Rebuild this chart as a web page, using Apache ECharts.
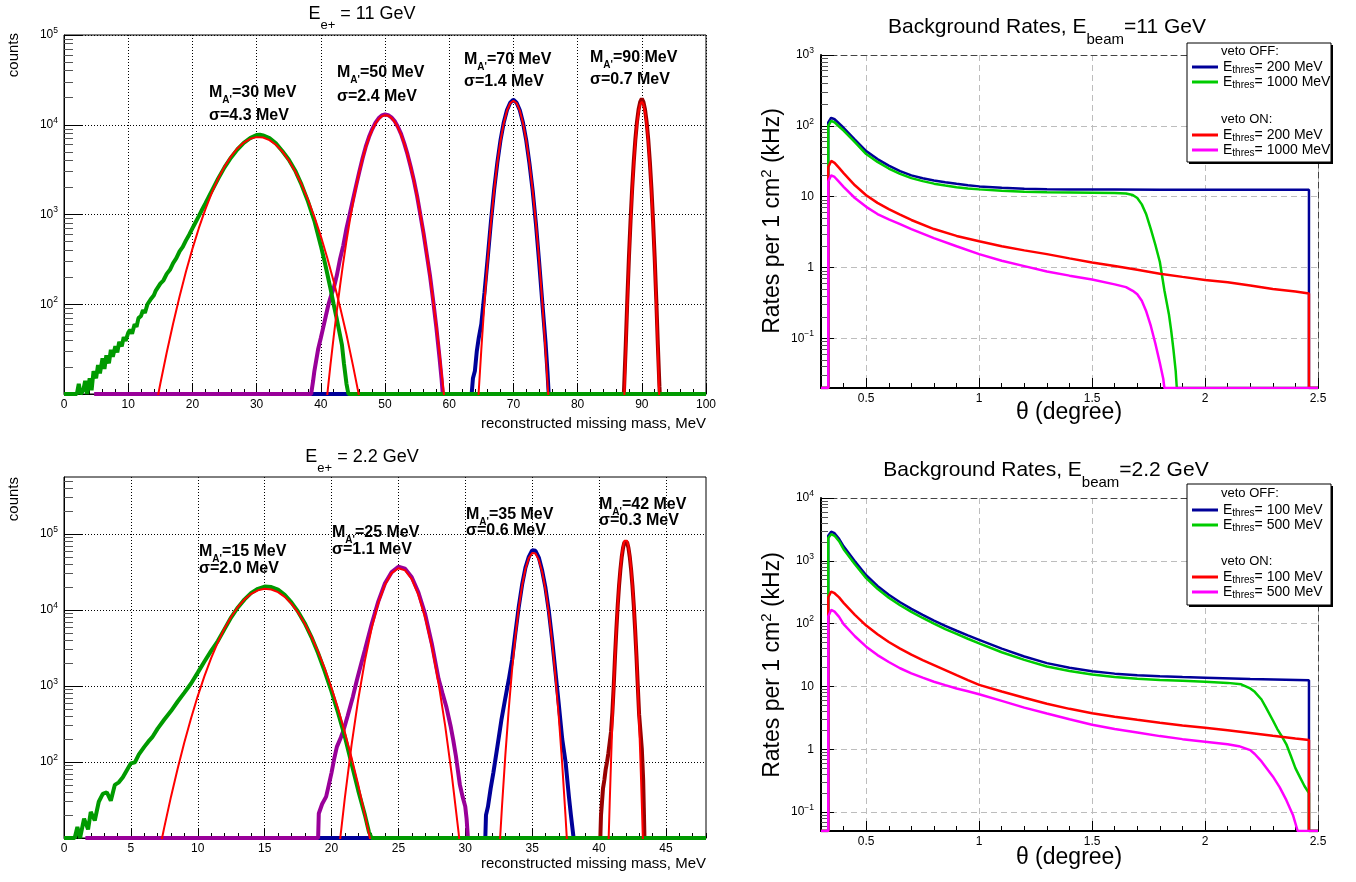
<!DOCTYPE html>
<html>
<head>
<meta charset="utf-8">
<script src="https://cdn.jsdelivr.net/npm/echarts@6/dist/echarts.min.js"></script>
<style>
  html, body { margin: 0; padding: 0; background: #fff; }
  #chart { width: 1356px; height: 882px; }
</style>
</head>
<body>
<div id="chart"></div>
<script>
const F = '"Liberation Sans", Arial, Helvetica, sans-serif';

// ---- tick values ----
const xTicksTL = [0, 10, 20, 30, 40, 50, 60, 70, 80, 90, 100];
const xTicksBL = [0, 5, 10, 15, 20, 25, 30, 35, 40, 45];
const xTicksR = [0.5, 1, 1.5, 2, 2.5];
const yTicksL = [10, 100, 1000, 10000, 100000];
const yLabelsL = [100, 1000, 10000, 100000];
const yTicksTR = [0.1, 1, 10, 100, 1000];
const yTicksBR = [0.1, 1, 10, 100, 1000, 10000];

// ---- E = 11 GeV, missing mass histograms (counts) ----
const h90_11 = [[50,10],[87.2,10],[87.25,12],[87.5,35],[87.75,115],[88,340],[88.25,860],[88.5,1950],[88.75,3900],[89,6900],[89.25,10800],[89.5,14800],[89.75,18000],[90,19500],[90.25,18000],[90.5,14800],[90.75,10800],[91,6900],[91.25,3900],[91.5,1950],[91.75,860],[92,340],[92.25,115],[92.5,35],[92.75,12],[92.8,10],[100,10]];
const h70_11 = [[30,10],[63.5,10],[63.7,15],[64,18],[64.3,30],[64.6,42],[65,60],[65.5,135],[66,330],[66.5,830],[67,1900],[67.5,3800],[68,6800],[68.5,10600],[69,14600],[69.5,17600],[70,19000],[70.5,17600],[71,14500],[71.5,10500],[72,6700],[72.5,3700],[73,1850],[73.5,800],[74,300],[74.5,105],[75,38],[75.3,18],[75.5,10],[100,10]];
const h50_11 = [[4.7,10],[38.5,10],[38.8,14],[39,18],[39.3,24],[39.6,32],[40,42],[40.4,56],[40.8,75],[41.2,100],[41.6,125],[42,150],[42.5,210],[43,320],[43.5,450],[44,700],[44.5,1000],[45,1450],[45.5,2100],[46,3000],[46.5,4200],[47,5700],[47.5,7300],[48,8900],[48.5,10500],[49,11800],[49.5,12700],[50,13000],[50.5,12800],[51,12100],[51.5,11000],[52,9500],[52.5,7900],[53,6200],[53.5,4700],[54,3400],[54.5,2400],[55,1600],[55.5,1000],[56,620],[56.5,360],[57,210],[57.5,110],[58,55],[58.5,25],[58.8,15],[59,10],[100,10]];
const h30_11 = [[0,10],[2,10],[2.3,13],[2.6,10],[3,11],[3.3,14],[3.6,10],[4,15],[4.3,11],[4.6,18],[5,15],[5.3,21],[5.6,17],[6,25],[6.3,19],[6.6,27],[7,22],[7.3,31],[7.6,26],[8,34],[8.3,29],[8.6,38],[9,34],[9.3,43],[9.6,39],[10,48],[10.3,52],[10.6,47],[11,60],[11.3,56],[11.6,70],[12,74],[12.3,86],[12.6,80],[13,100],[13.3,95],[13.6,116],[14,126],[14.3,142],[14.6,136],[15,170],[15.5,185],[16,218],[16.5,242],[17,288],[17.5,326],[18,388],[18.5,436],[19,515],[19.5,596],[20,700],[20.5,820],[21,960],[21.5,1130],[22,1320],[22.5,1550],[23,1820],[24,2500],[25,3350],[26,4300],[27,5300],[28,6300],[29,7100],[30,7700],[30.5,7750],[31,7600],[32,7100],[33,6200],[34,5100],[35,4100],[36,3100],[37,2150],[38,1400],[39,850],[40,450],[40.5,320],[41,220],[41.5,150],[42,100],[42.5,68],[43,45],[43.3,35],[43.6,22],[44,13],[44.3,10],[100,10]];
// fitted curves
const f90_11 = [[87,2],[87.25,8],[87.5,30],[87.75,102],[88,304],[88.25,790],[88.5,1810],[88.75,3660],[89,6490],[89.25,10140],[89.5,13940],[89.75,16890],[90,18000],[90.25,16890],[90.5,13940],[90.75,10140],[91,6490],[91.25,3660],[91.5,1810],[91.75,790],[92,304],[92.25,102],[92.5,30],[92.75,8],[93,2]];
const f70_11 = [[64.3,5],[64.5,8.2],[65,31],[65.5,106],[66,313],[66.5,812],[67,1860],[67.5,3756],[68,6660],[68.5,10420],[69,14340],[69.5,17360],[70,18500],[70.5,17360],[71,14340],[71.5,10420],[72,6660],[72.5,3756],[73,1860],[73.5,812],[74,313],[74.5,106],[75,31],[75.5,8.2],[75.7,5]];
const f50_11 = [[40.8,6],[41,9.7],[41.5,21],[42,43],[42.5,85],[43,160],[43.5,292],[44,507],[44.5,841],[45,1336],[45.5,2040],[46,2970],[46.5,4155],[47,5560],[47.5,7120],[48,8730],[48.5,10250],[49,11520],[49.5,12400],[50,12790],[50.5,12620],[51,11930],[51.5,10800],[52,9360],[52.5,7760],[53,6170],[53.5,4695],[54,3420],[54.5,2385],[55,1600],[55.5,1019],[56,625],[56.5,366],[57,206],[57.5,110],[58,57],[58.5,28],[59,13],[59.3,8.2]];
const f30_11 = [[14,5.6],[15,13],[16,29],[17,61],[18,122],[19,232],[20,414],[21,704],[22,1134],[23,1728],[24,2500],[25,3414],[26,4430],[27,5440],[28,6330],[29,6975],[30,7280],[31,7200],[32,6750],[33,5990],[34,5040],[35,4010],[36,3030],[37,2170],[38,1470],[39,940],[40,575],[41,330],[42,180],[43,93],[44,46],[45,21],[46,9.2]];

// ---- E = 2.2 GeV ----
const h42_22 = [[25,10],[40.1,10],[40.15,20],[40.2,26],[40.3,45],[40.4,58],[40.5,80],[40.6,100],[40.7,130],[40.8,180],[40.9,250],[41,450],[41.1,1000],[41.2,2500],[41.3,5600],[41.4,11500],[41.5,21000],[41.6,34000],[41.7,50000],[41.8,66000],[41.9,78000],[42,82000],[42.1,78000],[42.2,66000],[42.3,50000],[42.4,34000],[42.5,21000],[42.6,11500],[42.7,5600],[42.8,2500],[42.9,1000],[43,420],[43.1,250],[43.2,150],[43.3,60],[43.35,25],[43.4,10],[48,10]];
const h35_22 = [[15,10],[31.5,10],[31.55,20],[31.7,26],[31.9,45],[32.1,72],[32.4,158],[32.7,355],[33,700],[33.25,1200],[33.5,2200],[33.75,5000],[34,11000],[34.25,21500],[34.5,36000],[34.75,50000],[35,61000],[35.25,60000],[35.5,49000],[35.75,33000],[36,19500],[36.25,9600],[36.5,4000],[36.75,1500],[37,560],[37.25,200],[37.5,100],[37.75,35],[37.9,20],[38.1,10],[48,10]];
const h25_22 = [[1.6,10],[19,10],[19.05,21],[19.3,28],[19.6,35],[19.8,50],[20,72],[20.2,110],[20.4,158],[20.7,210],[20.9,263],[21.2,400],[21.6,724],[21.9,1200],[22.2,1900],[22.5,3000],[23,6500],[23.5,13000],[24,22500],[24.5,31500],[25,37000],[25.5,35000],[26,27000],[26.5,17000],[27,8800],[27.5,3600],[28,1250],[28.3,800],[28.6,520],[28.9,300],[29.1,195],[29.3,120],[29.6,50],[29.8,35],[30,26],[30.1,18],[30.2,10],[48,10]];
const h15_22 = [[0,10],[0.8,10],[1,14],[1.2,10],[1.5,18],[1.8,13],[2,22],[2.3,17],[2.6,30],[2.9,38],[3.2,40],[3.5,31],[3.8,50],[4.1,54],[4.4,63],[4.7,78],[5,96],[5.3,99],[5.6,126],[6,158],[6.3,185],[6.6,212],[7,275],[7.5,362],[8,468],[8.5,625],[9,818],[9.5,1080],[10,1500],[10.5,2100],[11,2900],[11.5,3900],[12,5600],[12.5,8000],[13,10800],[13.5,13800],[14,16800],[14.5,19000],[15,20300],[15.5,20000],[16,18500],[16.5,15800],[17,12600],[17.5,9500],[18,6700],[18.5,4400],[19,2700],[19.5,1550],[20,850],[20.5,440],[21,215],[21.5,95],[22,42],[22.5,20],[22.8,12],[23,10],[48,10]];
const f42_22 = [[40.7,7.2],[40.8,28.8],[40.9,103],[41,332],[41.1,955],[41.2,2460],[41.3,5650],[41.4,11640],[41.5,21430],[41.6,35340],[41.7,52160],[41.8,68880],[41.9,81350],[42,86000],[42.1,81350],[42.2,68880],[42.3,52160],[42.4,35340],[42.5,21430],[42.6,11640],[42.7,5650],[42.8,2460],[42.9,955],[43,332],[43.1,103],[43.2,28.8],[43.3,7.2]];
const f35_22 = [[32.5,4.8],[32.75,26.6],[33,125],[33.25,491],[33.5,1630],[33.75,4540],[34,10600],[34.25,20900],[34.5,34600],[34.75,48100],[35,56200],[35.25,55250],[35.5,45640],[35.75,31700],[36,18500],[36.25,9080],[36.5,3750],[36.75,1300],[37,379],[37.25,93],[37.5,19],[37.75,3.3]];
const f25_22 = [[20.5,5.7],[21,34],[21.5,168],[22,670],[22.5,2170],[23,5740],[23.5,12320],[24,21530],[24.5,30600],[25,35350],[25.5,33230],[26,25400],[26.5,15800],[27,7990],[27.5,3290],[28,1100],[28.5,299],[29,66],[29.5,11.9],[30,1.7]];
const f15_22 = [[7,5.2],[7.5,13.9],[8,35],[8.5,82],[9,182],[9.5,377],[10,737],[10.5,1350],[11,2330],[11.5,3760],[12,5720],[12.5,8160],[13,10950],[13.5,13800],[14,16330],[14.5,18160],[15,18980],[15.5,18620],[16,17180],[16.5,14870],[17,12100],[17.5,9250],[18,6640],[18.5,4480],[19,2840],[19.5,1690],[20,945],[20.5,496],[21,245],[21.5,114],[22,50],[22.5,20],[23,7.8]];

// ---- background rates (kHz per cm^2) vs theta (deg) ----
const rOff200_11 = [[0.3,0.02],[0.332,0.02],[0.332,112],[0.345,130],[0.36,124],[0.38,108],[0.4,94],[0.45,64],[0.5,44],[0.55,34],[0.6,27.5],[0.65,23],[0.7,20],[0.75,18.2],[0.8,17],[0.85,16],[0.9,15.2],[0.95,14.5],[1,14],[1.1,13.4],[1.2,13],[1.3,12.8],[1.4,12.7],[1.6,12.6],[1.8,12.5],[2,12.5],[2.2,12.5],[2.46,12.5],[2.46,0.02],[2.5,0.02]];
const rOff1000_11 = [[0.3,0.02],[0.332,0.02],[0.332,100],[0.345,118],[0.36,112],[0.38,98],[0.4,86],[0.45,59],[0.5,40],[0.55,31],[0.6,25],[0.65,21],[0.7,18.3],[0.75,16.6],[0.8,15.3],[0.85,14.4],[0.9,13.6],[0.95,13.1],[1,12.7],[1.1,12.1],[1.2,11.8],[1.3,11.6],[1.4,11.5],[1.5,11.4],[1.6,11.3],[1.65,11.1],[1.68,10.6],[1.7,9.6],[1.72,7.8],[1.74,5.6],[1.76,3.5],[1.78,2.1],[1.8,1.2],[1.82,0.48],[1.84,0.22],[1.85,0.13],[1.86,0.07],[1.87,0.035],[1.875,0.02],[2.5,0.02]];
const rOn200_11 = [[0.3,0.02],[0.332,0.02],[0.332,26],[0.345,32],[0.36,30],[0.38,25.5],[0.4,21.5],[0.45,14.5],[0.5,10.5],[0.55,8.2],[0.6,6.7],[0.65,5.6],[0.7,4.7],[0.8,3.5],[0.9,2.8],[1,2.35],[1.1,2],[1.2,1.75],[1.3,1.55],[1.4,1.35],[1.5,1.18],[1.6,1.05],[1.7,0.93],[1.8,0.82],[1.9,0.74],[2,0.67],[2.1,0.62],[2.2,0.56],[2.3,0.5],[2.4,0.46],[2.46,0.43],[2.46,0.02],[2.5,0.02]];
const rOn1000_11 = [[0.3,0.02],[0.332,0.02],[0.332,16.5],[0.345,20],[0.36,19],[0.38,16.2],[0.4,13.8],[0.45,9.6],[0.5,7.2],[0.55,5.7],[0.6,4.8],[0.65,4.1],[0.7,3.5],[0.8,2.6],[0.9,2],[1,1.55],[1.1,1.25],[1.2,1.05],[1.3,0.88],[1.4,0.77],[1.5,0.68],[1.6,0.58],[1.65,0.53],[1.68,0.47],[1.7,0.42],[1.72,0.34],[1.74,0.24],[1.76,0.15],[1.78,0.085],[1.8,0.045],[1.815,0.027],[1.82,0.02],[2.5,0.02]];
const rOff100_22 = [[0.3,0.05],[0.332,0.05],[0.332,2500],[0.345,2900],[0.36,2750],[0.38,2240],[0.4,1700],[0.45,980],[0.5,589],[0.55,398],[0.6,288],[0.65,219],[0.7,172],[0.75,138],[0.8,112],[0.85,92],[0.9,77],[0.95,65],[1,55],[1.1,40],[1.2,30],[1.3,23.5],[1.4,19.8],[1.5,17.5],[1.6,16],[1.7,15.1],[1.8,14.5],[1.9,14.1],[2,13.8],[2.2,13.2],[2.46,12.6],[2.46,0.05],[2.5,0.05]];
const rOff500_22 = [[0.3,0.05],[0.332,0.05],[0.332,2300],[0.345,2650],[0.36,2500],[0.38,2050],[0.4,1530],[0.45,880],[0.5,530],[0.55,358],[0.6,258],[0.65,196],[0.7,154],[0.75,123],[0.8,100],[0.85,82],[0.9,68.5],[0.95,57.5],[1,48.5],[1.1,35],[1.2,26.5],[1.3,20.8],[1.4,17.6],[1.5,15.5],[1.6,14.2],[1.7,13.3],[1.8,12.7],[1.9,12.3],[2,11.9],[2.1,11.4],[2.16,10.8],[2.2,9.3],[2.22,8.2],[2.25,6.2],[2.27,4.6],[2.3,2.9],[2.32,2.1],[2.34,1.6],[2.36,1.2],[2.38,0.78],[2.4,0.5],[2.42,0.36],[2.44,0.26],[2.46,0.2],[2.46,0.05],[2.5,0.05]];
const rOn100_22 = [[0.3,0.05],[0.332,0.05],[0.332,260],[0.345,324],[0.36,305],[0.38,262],[0.4,214],[0.45,138],[0.5,93],[0.55,68],[0.6,51],[0.65,40],[0.7,32],[0.75,26.3],[0.8,21.9],[0.85,18.2],[0.9,15.1],[0.95,12.6],[1,10.6],[1.1,8.3],[1.2,6.6],[1.3,5.3],[1.4,4.4],[1.5,3.75],[1.6,3.3],[1.7,2.95],[1.8,2.65],[1.9,2.4],[2,2.2],[2.1,2],[2.2,1.82],[2.3,1.64],[2.4,1.48],[2.46,1.4],[2.46,0.05],[2.5,0.05]];
const rOn500_22 = [[0.3,0.05],[0.332,0.05],[0.332,130],[0.345,165],[0.36,155],[0.38,128],[0.4,98],[0.45,63],[0.5,43],[0.55,31.6],[0.6,24.5],[0.65,19.5],[0.7,16.2],[0.75,13.8],[0.8,11.9],[0.85,10.5],[0.9,9.3],[0.95,8.4],[1,7.5],[1.1,5.9],[1.2,4.6],[1.3,3.7],[1.4,3],[1.5,2.45],[1.6,2.1],[1.7,1.85],[1.8,1.62],[1.9,1.45],[2,1.32],[2.1,1.2],[2.15,1.12],[2.2,0.97],[2.22,0.84],[2.25,0.64],[2.28,0.46],[2.3,0.37],[2.33,0.25],[2.36,0.155],[2.39,0.088],[2.41,0.05],[2.5,0.05]];

const thresText = {
  off200_11: '200 MeV', off1000_11: '1000 MeV', on200_11: '200 MeV', on1000_11: '1000 MeV',
  off100_22: '100 MeV', off500_22: '500 MeV', on100_22: '100 MeV', on500_22: '500 MeV'
};

// ---- helpers ----
function logMinors(lo, hi) {
  const out = [];
  for (let d = -3; d <= 6; d++) {
    for (let m = 2; m <= 9; m++) {
      const v = +(m * Math.pow(10, d)).toPrecision(6);
      if (v >= lo && v <= hi) out.push(v);
    }
  }
  return out;
}
function linMinors(lo, hi, step) {
  const out = [];
  const n = Math.round((hi - lo) / step);
  for (let i = 0; i <= n; i++) out.push(+(lo + i * step).toFixed(4));
  return out;
}
const supLabel = v => {
  const e = Math.round(Math.log10(v));
  return '{b|10}{s|' + (e < 0 ? '\u2212' + (-e) : e) + '}';
};
const rootLabel = v => {
  const e = Math.round(Math.log10(v));
  if (e === 0) return '{b|1}';
  if (e === 1) return '{b|10}';
  return supLabel(v);
};
const tickRich = {
  b: { fontSize: 12, lineHeight: 18, color: '#000', fontFamily: F },
  s: { fontSize: 8.5, lineHeight: 9, verticalAlign: 'top', color: '#000', fontFamily: F }
};

const xAxis = [], yAxis = [];

function leftPanel(gi, xmax, xMaj, xMinStep, ymin, ymax) {
  xAxis.push({
    type: 'value', gridIndex: gi, position: 'bottom', min: 0, max: xmax,
    axisLine: { show: true, onZero: false, lineStyle: { color: '#000', width: 1 } },
    axisTick: { show: true, inside: true, length: 10, customValues: xMaj, lineStyle: { color: '#000' } },
    axisLabel: { show: true, customValues: xMaj, color: '#000', fontFamily: F, fontSize: 12, margin: 5 },
    splitLine: { show: true, lineStyle: { color: '#000', type: [1, 2], width: 1 } }
  });
  xAxis.push({
    type: 'value', gridIndex: gi, position: 'bottom', min: 0, max: xmax,
    axisLine: { show: false }, axisLabel: { show: false }, splitLine: { show: false },
    axisTick: { show: true, inside: true, length: 5, customValues: linMinors(0, xmax, xMinStep), lineStyle: { color: '#000' } }
  });
  yAxis.push({
    type: 'log', logBase: 10, gridIndex: gi, position: 'left', min: ymin, max: ymax,
    axisLine: { show: true, onZero: false, lineStyle: { color: '#000', width: 1 } },
    axisTick: { show: true, inside: true, length: 18, customValues: yTicksL, lineStyle: { color: '#000' } },
    axisLabel: { show: true, customValues: yLabelsL, formatter: supLabel, rich: tickRich, margin: 6 },
    splitLine: { show: true, lineStyle: { color: '#000', type: [1, 2], width: 1 } }
  });
  yAxis.push({
    type: 'log', logBase: 10, gridIndex: gi, position: 'left', min: ymin, max: ymax,
    axisLine: { show: false }, axisLabel: { show: false }, splitLine: { show: false },
    axisTick: { show: true, inside: true, length: 9, customValues: logMinors(ymin, ymax), lineStyle: { color: '#555' } }
  });
}

function rightPanel(gi, ymin, ymax, yMaj) {
  const split = { show: true, lineStyle: { color: '#bdbdbd', type: [6, 4], width: 1 } };
  const frame = { show: true, onZero: false, lineStyle: { color: '#444', type: [6, 4], width: 1 } };
  xAxis.push({
    type: 'value', gridIndex: gi, position: 'bottom', min: 0.3, max: 2.5,
    axisLine: { show: true, onZero: false, lineStyle: { color: '#000', width: 2 } },
    axisTick: { show: true, inside: true, length: 10, customValues: xTicksR, lineStyle: { color: '#000' } },
    axisLabel: { show: true, customValues: xTicksR, color: '#000', fontFamily: F, fontSize: 12, margin: 5 },
    splitLine: split
  });
  xAxis.push({
    type: 'value', gridIndex: gi, position: 'bottom', min: 0.3, max: 2.5,
    axisLine: { show: false }, axisLabel: { show: false }, splitLine: { show: false },
    axisTick: { show: true, inside: true, length: 5, customValues: linMinors(0.3, 2.5, 0.1), lineStyle: { color: '#000' } }
  });
  xAxis.push({
    type: 'value', gridIndex: gi, position: 'top', min: 0.3, max: 2.5,
    axisLine: frame, axisTick: { show: false }, axisLabel: { show: false }, splitLine: { show: false }
  });
  yAxis.push({
    type: 'log', logBase: 10, gridIndex: gi, position: 'left', min: ymin, max: ymax,
    axisLine: { show: true, onZero: false, lineStyle: { color: '#000', width: 2 } },
    axisTick: { show: true, inside: true, length: 13, customValues: yMaj, lineStyle: { color: '#000' } },
    axisLabel: { show: true, customValues: yMaj, formatter: rootLabel, rich: tickRich, margin: 7 },
    splitLine: split
  });
  yAxis.push({
    type: 'log', logBase: 10, gridIndex: gi, position: 'left', min: ymin, max: ymax,
    axisLine: { show: false }, axisLabel: { show: false }, splitLine: { show: false },
    axisTick: { show: true, inside: true, length: 7, customValues: logMinors(ymin, ymax), lineStyle: { color: '#555' } }
  });
  yAxis.push({
    type: 'log', logBase: 10, gridIndex: gi, position: 'right', min: ymin, max: ymax,
    axisLine: frame, axisTick: { show: false }, axisLabel: { show: false }, splitLine: { show: false }
  });
}

leftPanel(0, 100, xTicksTL, 2, 10, 100000);          // x 0,1  y 0,1
leftPanel(1, 48, xTicksBL, 1, 10, 562000);           // x 2,3  y 2,3
rightPanel(2, 0.02, 1000, yTicksTR);                 // x 4,5,6 y 4,5,6
rightPanel(3, 0.05, 10000, yTicksBR);                // x 7,8,9 y 7,8,9

function line(name, data, ai, color, width) {
  return {
    type: 'line', name: name, data: data, xAxisIndex: ai, yAxisIndex: ai,
    symbol: 'none', showSymbol: false, smooth: false, clip: true,
    lineStyle: { color: color, width: width }, itemStyle: { color: color },
    emphasis: { disabled: true }, silent: true
  };
}

const C = { green: '#009a00', purple: '#990099', blue: '#000099', dred: '#990000', red: '#ff0000',
            rblue: '#000099', rgreen: '#00cc00', rred: '#ff0000', rpink: '#ff00ff' };

const series = [
  line('h90_11', h90_11, 0, C.dred, 4),
  line('h70_11', h70_11, 0, C.blue, 4),
  line('h50_11', h50_11, 0, C.purple, 4),
  line('h30_11', h30_11, 0, C.green, 4),
  line('f90_11', f90_11, 0, C.red, 2),
  line('f70_11', f70_11, 0, C.red, 2),
  line('f50_11', f50_11, 0, C.red, 2),
  line('f30_11', f30_11, 0, C.red, 2),

  line('h42_22', h42_22, 2, C.dred, 4),
  line('h35_22', h35_22, 2, C.blue, 4),
  line('h25_22', h25_22, 2, C.purple, 4),
  line('h15_22', h15_22, 2, C.green, 4),
  line('f42_22', f42_22, 2, C.red, 2),
  line('f35_22', f35_22, 2, C.red, 2),
  line('f25_22', f25_22, 2, C.red, 2),
  line('f15_22', f15_22, 2, C.red, 2),

  line('off200_11', rOff200_11, 4, C.rblue, 2.5),
  line('off1000_11', rOff1000_11, 4, C.rgreen, 2.5),
  line('on200_11', rOn200_11, 4, C.rred, 2.5),
  line('on1000_11', rOn1000_11, 4, C.rpink, 2.5),

  line('off100_22', rOff100_22, 7, C.rblue, 2.5),
  line('off500_22', rOff500_22, 7, C.rgreen, 2.5),
  line('on100_22', rOn100_22, 7, C.rred, 2.5),
  line('on500_22', rOn500_22, 7, C.rpink, 2.5)
];

function legend(names, top) {
  return {
    data: names, orient: 'vertical', left: 1187, top: top, padding: 5,
    itemWidth: 26, itemHeight: 3, itemGap: 0, icon: 'rect', selectedMode: false,
    itemStyle: { borderWidth: 0 },
    formatter: n => '{e|E}{t|thres}{e|= ' + thresText[n] + '}',
    textStyle: {
      color: '#000', fontFamily: F, fontSize: 14,
      rich: {
        e: { fontSize: 14, lineHeight: 16, color: '#000', fontFamily: F },
        t: { fontSize: 10, lineHeight: 10, verticalAlign: 'bottom', color: '#000', fontFamily: F }
      }
    }
  };
}

// ---- text ----
const richAnno = {
  m: { fontSize: 16, fontWeight: 'bold', lineHeight: 24, fill: '#000', fontFamily: F },
  a: { fontSize: 10, fontWeight: 'bold', lineHeight: 10, verticalAlign: 'bottom', fill: '#000', fontFamily: F }
};
const richTitleL = {
  t: { fontSize: 18, lineHeight: 36, fill: '#000', fontFamily: F },
  u: { fontSize: 13, lineHeight: 13, verticalAlign: 'bottom', fill: '#000', fontFamily: F }
};
const richTitleR = {
  t: { fontSize: 21, lineHeight: 41, fill: '#000', fontFamily: F },
  u: { fontSize: 15, lineHeight: 15, verticalAlign: 'bottom', fill: '#000', fontFamily: F }
};
const richYR = {
  r: { fontSize: 23, lineHeight: 28, fill: '#000', fontFamily: F },
  s: { fontSize: 15, lineHeight: 15, verticalAlign: 'top', fill: '#000', fontFamily: F }
};
const richPlain = (size) => ({ p: { fontSize: size, lineHeight: size + 4, fill: '#000', fontFamily: F } });

function gtext(x, y, text, rich, align, rot) {
  return {
    type: 'text', x: x, y: y, rotation: rot || 0, z: 10, silent: true,
    style: { text: text, rich: rich, align: align || 'left', verticalAlign: 'middle', fill: '#000', fontFamily: F }
  };
}
const ma = (m) => '{m|M}{a|A\'}{m|=' + m + ' MeV}';
const sg = (s) => '{m|\u03c3=' + s + ' MeV}';

const R90 = Math.PI / 2;
const graphic = [
  gtext(362, 14, '{t|E}{u|e+}{t| = 11 GeV}', richTitleL, 'center'),
  gtext(362, 457, '{t|E}{u|e+}{t| = 2.2 GeV}', richTitleL, 'center'),
  gtext(14, 33, '{p|counts}', richPlain(15), 'right', R90),
  gtext(14, 477, '{p|counts}', richPlain(15), 'right', R90),
  gtext(706, 424, '{p|reconstructed missing mass, MeV}', richPlain(15), 'right'),
  gtext(706, 864, '{p|reconstructed missing mass, MeV}', richPlain(15), 'right'),

  gtext(209, 93, ma(30), richAnno), gtext(209, 116, sg('4.3'), richAnno),
  gtext(337, 73, ma(50), richAnno), gtext(337, 97, sg('2.4'), richAnno),
  gtext(464, 60, ma(70), richAnno), gtext(464, 82, sg('1.4'), richAnno),
  gtext(590, 58, ma(90), richAnno), gtext(590, 80, sg('0.7'), richAnno),

  gtext(199, 552, ma(15), richAnno), gtext(199, 569, sg('2.0'), richAnno),
  gtext(332, 533, ma(25), richAnno), gtext(332, 550, sg('1.1'), richAnno),
  gtext(466, 515, ma(35), richAnno), gtext(466, 531, sg('0.6'), richAnno),
  gtext(599, 505, ma(42), richAnno), gtext(599, 521, sg('0.3'), richAnno),

  gtext(1047, 27, '{t|Background Rates, E}{u|beam}{t|=11 GeV}', richTitleR, 'center'),
  gtext(1046, 470, '{t|Background Rates, E}{u|beam}{t|=2.2 GeV}', richTitleR, 'center'),
  gtext(773, 221, '{r|Rates per 1 cm}{s|2}{r| (kHz)}', richYR, 'center', R90),
  gtext(773, 665, '{r|Rates per 1 cm}{s|2}{r| (kHz)}', richYR, 'center', R90),
  gtext(1069, 413, '{p|\u03b8 (degree)}', richPlain(23), 'center'),
  gtext(1069, 858, '{p|\u03b8 (degree)}', richPlain(23), 'center'),

  // legend boxes
  { type: 'rect', z: 3, silent: true, shape: { x: 1189, y: 45, width: 144, height: 119 }, style: { fill: '#000' } },
  { type: 'rect', z: 3, silent: true, shape: { x: 1187, y: 43, width: 144, height: 119 }, style: { fill: '#fff', stroke: '#000', lineWidth: 1 } },
  { type: 'rect', z: 3, silent: true, shape: { x: 1189, y: 486, width: 144, height: 121 }, style: { fill: '#000' } },
  { type: 'rect', z: 3, silent: true, shape: { x: 1187, y: 484, width: 144, height: 121 }, style: { fill: '#fff', stroke: '#000', lineWidth: 1 } },
  gtext(1221, 51, '{p|veto OFF:}', richPlain(13)),
  gtext(1221, 119, '{p|veto ON:}', richPlain(13)),
  gtext(1221, 493, '{p|veto OFF:}', richPlain(13)),
  gtext(1221, 561, '{p|veto ON:}', richPlain(13))
];

const option = {
  animation: false,
  backgroundColor: '#fff',
  textStyle: { fontFamily: F },
  grid: [
    { left: 64, top: 35, width: 642, height: 359, show: true, borderColor: '#000', borderWidth: 1 },
    { left: 64, top: 477, width: 642, height: 361, show: true, borderColor: '#000', borderWidth: 1 },
    { left: 821, top: 55, width: 497, height: 333 },
    { left: 821, top: 498, width: 497, height: 333 }
  ],
  xAxis: xAxis,
  yAxis: yAxis,
  legend: [
    legend(['off200_11', 'off1000_11'], 55),
    legend(['on200_11', 'on1000_11'], 123),
    legend(['off100_22', 'off500_22'], 498),
    legend(['on100_22', 'on500_22'], 565)
  ],
  graphic: graphic,
  series: series
};

const chart = echarts.init(document.getElementById('chart'), null, { renderer: 'canvas' });
chart.setOption(option);
</script>
</body>
</html>
